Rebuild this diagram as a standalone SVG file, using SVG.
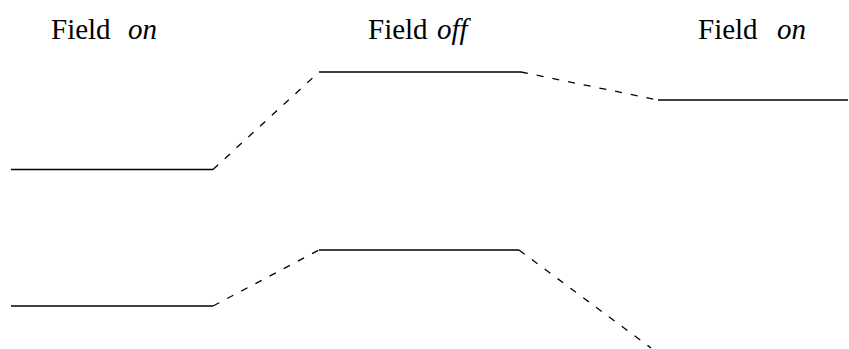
<svg xmlns="http://www.w3.org/2000/svg" width="849" height="349" viewBox="0 0 849 349">
  <style>
    .lbl { font-family: "Liberation Serif", "Times New Roman", serif; font-size: 29px; fill: #000; }
    .it { font-style: italic; }
    .lvl { stroke: #000; stroke-width: 1.5; fill: none; }
    .cn { stroke: #000; stroke-width: 1.3; fill: none; stroke-dasharray: 7 9; }
  </style>
  <rect width="849" height="349" fill="#fff"/>
  <g id="label-left">
    <text class="lbl" x="51" y="39">Field</text>
    <text class="lbl it" x="128" y="39">on</text>
  </g>
  <g id="label-middle">
    <text class="lbl" x="368" y="39">Field</text>
    <text class="lbl it" x="437" y="39">off</text>
  </g>
  <g id="label-right">
    <text class="lbl" x="698" y="39">Field</text>
    <text class="lbl it" x="777" y="39">on</text>
  </g>
  <g id="level-left-upper"><line class="lvl" x1="11" y1="169.5" x2="213" y2="169.5"/></g>
  <g id="level-mid-upper"><line class="lvl" x1="319" y1="72" x2="521" y2="72"/></g>
  <g id="level-right-upper"><line class="lvl" x1="658" y1="100" x2="848" y2="100"/></g>
  <g id="level-left-lower"><line class="lvl" x1="11" y1="306" x2="213" y2="306"/></g>
  <g id="level-mid-lower"><line class="lvl" x1="319" y1="250" x2="519" y2="250"/></g>
  <g id="connectors">
    <line class="cn" x1="213" y1="169.5" x2="319" y2="72"/>
    <line class="cn" x1="521" y1="72" x2="658" y2="100"/>
    <line class="cn" x1="213" y1="306" x2="319" y2="250"/>
    <line class="cn" x1="519" y1="250" x2="651" y2="348"/>
  </g>
</svg>
